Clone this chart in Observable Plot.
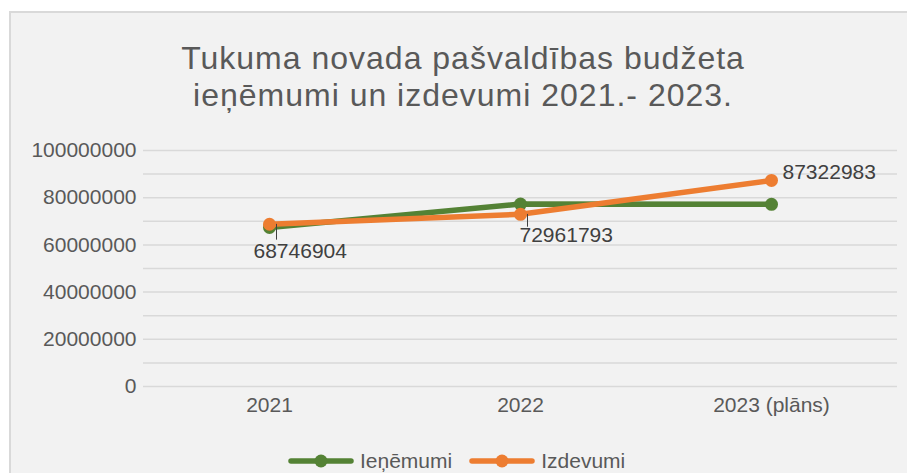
<!DOCTYPE html>
<html>
<head>
<meta charset="utf-8">
<script src="https://cdn.jsdelivr.net/npm/d3@7"></script>
<script src="https://cdn.jsdelivr.net/npm/@observablehq/plot@0.6"></script>
<style>
  html, body { margin: 0; padding: 0; background: #ffffff; width: 907px; height: 473px; overflow: hidden; }
  body { position: relative; font-family: "Liberation Sans", Arial, sans-serif; }
  #frame { position: absolute; left: 9px; top: 11px; width: 910px; height: 480px; background: #f2f2f2;
           border-left: 2px solid #d9d9d9; border-top: 2px solid #d9d9d9; box-sizing: border-box; }
  #title { position: absolute; left: 0; width: 926px; top: 40px; text-align: center; color: #595959;
           font-size: 32px; line-height: 37px; letter-spacing: 1px; }
  #chart { position: absolute; left: 0; top: 130px; }
  #legend { position: absolute; left: 288px; top: 449px; height: 24px; display: flex; align-items: center;
            color: #595959; font-size: 21px; }
  #legend .item { display: flex; align-items: center; }
  #legend svg { display: block; }
</style>
</head>
<body>
<div id="frame"></div>
<div id="title">Tukuma novada pašvaldības budžeta<br>ieņēmumi un izdevumi 2021.- 2023.</div>
<div id="chart"></div>
<div id="legend"></div>
<script>
// ---- data ----
const years = ["2021", "2022", "2023 (plāns)"];
const seriesNames = ["Ieņēmumi", "Izdevumi"];
const ienemumi = [67400000, 77300000, 77200000];
const izdevumi = [68746904, 72961793, 87322983];
const yTickValues = [0, 20000000, 40000000, 60000000, 80000000, 100000000];
const gridValues = [0, 10000000, 20000000, 30000000, 40000000, 50000000, 60000000, 70000000, 80000000, 90000000, 100000000];
const colors = ["#548235", "#ed7d31"];

const ienData = years.map((y, i) => ({year: y, value: ienemumi[i]}));
const izdData = years.map((y, i) => ({year: y, value: izdevumi[i]}));

// label placement styles (pixel offsets, Excel-like manual label positions)
const labelStyle = [
  {dx: -16, dy: 27, leader: 15},
  {dx: -1, dy: 21, leader: 12},
  {dx: 11, dy: -8.5, leader: 0}
];

const leaderShape = {draw(context, l) { context.moveTo(0, 0); context.lineTo(0, -l); }};

const marks = [
  Plot.ruleY(gridValues, {stroke: "#d9d9d9", strokeWidth: 1.5}),
  Plot.line(ienData, {x: "year", y: "value", stroke: colors[0], strokeWidth: 5.5, strokeLinecap: "round", strokeLinejoin: "round"}),
  Plot.dot(ienData, {x: "year", y: "value", r: 6.5, fill: colors[0]}),
  Plot.line(izdData, {x: "year", y: "value", stroke: colors[1], strokeWidth: 5.5, strokeLinecap: "round", strokeLinejoin: "round"}),
  Plot.dot(izdData, {x: "year", y: "value", r: 6.5, fill: colors[1]})
];
izdData.forEach((d, i) => {
  const s = labelStyle[i];
  if (s.leader > 0) {
    marks.push(Plot.vector([d], {x: "year", y: "value", length: s.leader, rotate: 180, anchor: "start",
      dx: 7, stroke: "#404040", strokeWidth: 1, shape: leaderShape}));
  }
  marks.push(Plot.text([d], {x: "year", y: "value", text: d => String(d.value), textAnchor: "start",
    dx: s.dx, dy: s.dy, fill: "#404040", fontSize: 21}));
});

const chart = Plot.plot({
  width: 907,
  height: 300,
  marginTop: 20,
  marginBottom: 44,
  marginLeft: 143,
  marginRight: 10,
  style: {fontSize: "21px", fontFamily: "'Liberation Sans', Arial, sans-serif", color: "#595959", background: "none", overflow: "visible"},
  x: {type: "point", domain: years, padding: 0.5, tickSize: 0, tickPadding: 11, label: null},
  y: {domain: [0, 100000000], ticks: yTickValues, tickFormat: d => String(d), tickSize: 0, tickPadding: 7, label: null},
  marks
});
document.getElementById("chart").appendChild(chart);

// ---- legend ----
const legend = document.getElementById("legend");
seriesNames.forEach((name, i) => {
  const item = document.createElement("div");
  item.className = "item";
  item.style.marginRight = i === 0 ? "17px" : "0";
  item.innerHTML = `<svg width="66" height="20"><line x1="3" x2="63" y1="10" y2="10" stroke="${colors[i]}" stroke-width="5.5" stroke-linecap="round"/><circle cx="33" cy="10" r="6.5" fill="${colors[i]}"/></svg><span style="margin-left:6px">${name}</span>`;
  legend.appendChild(item);
});
</script>
</body>
</html>
